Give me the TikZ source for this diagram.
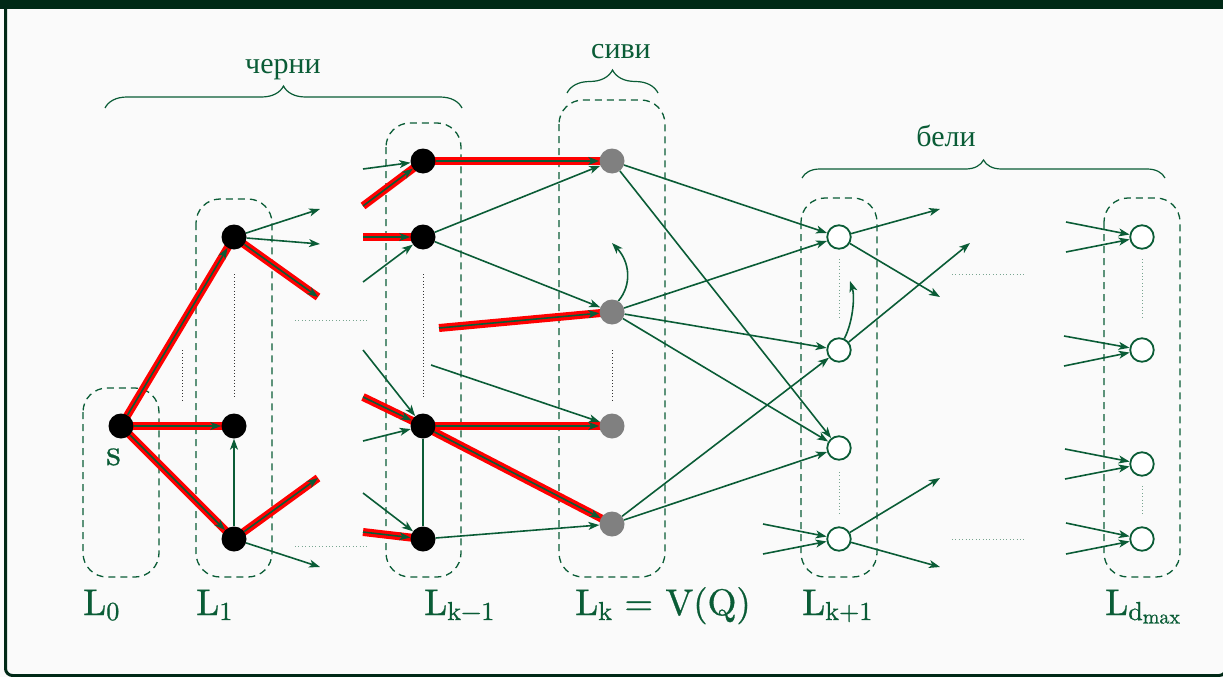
\documentclass[tikz,border=0pt]{standalone}
\usepackage{fontspec}
\newfontfamily\cyr{Liberation Serif}
\newfontfamily\labf{lmroman10-regular.otf}[FakeBold=0.8]
\usetikzlibrary{arrows.meta,decorations.pathreplacing}
\definecolor{grn}{RGB}{10,92,54}
\definecolor{frm}{RGB}{0,41,22}
\definecolor{bgc}{RGB}{250,250,250}
\definecolor{hlred}{RGB}{255,0,0}
\newcommand\lsub[1]{\raisebox{-5pt}{\fontsize{26}{30}\selectfont #1}}
\newcommand\lssub[1]{\raisebox{-3.5pt}{\fontsize{20}{23}\selectfont #1}}
\pgfdeclarelayer{back}
\pgfdeclarelayer{edges}
\pgfsetlayers{back,edges,main}
\begin{document}
\begin{tikzpicture}[x=1pt,y=-1pt,
  ln/.style={draw=grn, line width=1.6pt},
  arr/.style={ln, -{Stealth[length=11pt,width=8pt,inset=3pt]}},
  hl/.style={draw=hlred, line width=8pt},
  bn/.style={circle, fill=black, minimum size=25pt, inner sep=0pt},
  gn/.style={circle, fill=gray, minimum size=25pt, inner sep=0pt},
  wn/.style={circle, fill=white, draw=grn, line width=1.8pt, minimum size=23.5pt, inner sep=0pt},
  lbox/.style={draw=grn, line width=1.3pt, dash pattern=on 7pt off 5pt, rounded corners=24pt},
  dotk/.style={draw=black!80, line width=0.9pt, dash pattern=on 0.9pt off 2.4pt},
  dotg/.style={draw=grn!55, line width=1pt, dash pattern=on 1pt off 2.4pt},
  brc/.style={draw=grn, line width=1.2pt, decorate, decoration={brace, amplitude=#1}},
  lab/.style={text=grn, font=\labf\fontsize{37}{44}\selectfont, inner sep=0pt},
  clab/.style={text=grn, font=\cyr\fontsize{30}{36}\selectfont, inner sep=0pt}
]
\useasboundingbox (0,0) rectangle (1223,677);
\begin{pgfonlayer}{back}
  \fill[bgc] (0,0) rectangle (1223,677);
  \draw[frm, line width=3pt, rounded corners=7pt] (5.5,-5) -- (5.5,675.5) -- (1226,675.5) -- (1226,-5);
  \fill[frm] (0,0) rectangle (1223,9);
  % layer boxes
  \draw[lbox] (83,388) rectangle (159,577);
  \draw[lbox] (196,199) rectangle (272,577);
  \draw[lbox] (386,123) rectangle (461,577);
  \draw[lbox] (559,100) rectangle (665,577);
  \draw[lbox] (801,198) rectangle (877,577);
  \draw[lbox] (1104,198) rectangle (1180,577);
  % braces
  \draw[brc=22pt] (105,108) -- (462,108);
  \draw[brc=23pt] (567,93) -- (658,93);
  \draw[brc=18pt] (802,178) -- (1165,178);
  % dotted
  \draw[dotk] (234,274) -- (234,397);
  \draw[dotk] (182,350) -- (182,400);
  \draw[dotg] (295,320) -- (367,320);
  \draw[dotg] (295,546) -- (367,546);
  \draw[dotk] (423,274) -- (423,397);
  \draw[dotk] (612,350) -- (612,400);
  \draw[dotg] (839,259) -- (839,317);
  \draw[dotg] (839,472) -- (839,513);
  \draw[dotg] (952,274) -- (1026,274);
  \draw[dotg] (952,539) -- (1026,539);
  \draw[dotg] (1142,259) -- (1142,317);
  \draw[dotg] (1142,486) -- (1142,514);
\end{pgfonlayer}

% texts
\node[clab, anchor=base] (tb) at (283,74) {черни};
\node[clab, anchor=base] (ts) at (621,59) {сиви};
\node[clab, anchor=base] (tw) at (946,146) {бели};
\node[lab, anchor=base west] (l0) at (83,615) {L\lsub{0}};
\node[lab, anchor=base west] (l1) at (196,615) {L\lsub{1}};
\node[lab, anchor=base west] (lkm) at (424,615) {L\lsub{k−1}};
\node[lab, anchor=base west] (lk) at (575,615) {L\lsub{k} = V(Q)};
\node[lab, anchor=base west] (lkp) at (802,615) {L\lsub{k+1}};
\node[lab, anchor=base west] (ld) at (1105,615) {L\lsub{d\lssub{max}}};
\node[lab, anchor=base west] (ls) at (106,465) {s};

% nodes
\node[bn] (s) at (121,426) {};
\node[bn] (a1) at (234,237) {};
\node[bn] (a2) at (234,426) {};
\node[bn] (a3) at (234,539) {};
\node[bn] (b1) at (423,161) {};
\node[bn] (b2) at (423,237) {};
\node[bn] (b3) at (423,426) {};
\node[bn] (b4) at (423,539) {};
\node[gn] (c1) at (612,161) {};
\node[gn] (c2) at (612,312) {};
\node[gn] (c3) at (612,426) {};
\node[gn] (c4) at (612,524) {};
\node[wn] (w1) at (839,237) {};
\node[wn] (w2) at (839,350) {};
\node[wn] (w3) at (839,448) {};
\node[wn] (w4) at (839,539) {};
\node[wn] (d1) at (1142,237) {};
\node[wn] (d2) at (1142,350) {};
\node[wn] (d3) at (1142,464) {};
\node[wn] (d4) at (1142,539) {};

% free ends
\coordinate (p1) at (318,297);
\coordinate (p2) at (318,478);
\coordinate (p3) at (320,209);
\coordinate (p4) at (320,244);
\coordinate (p5) at (320,567);
\coordinate (q1) at (363,169);
\coordinate (q2) at (363,206);
\coordinate (q3) at (363,237);
\coordinate (q4) at (363,282);
\coordinate (q5) at (363,350);
\coordinate (q6) at (363,397);
\coordinate (q7) at (363,441);
\coordinate (q8) at (363,493);
\coordinate (q9) at (363,532);
\coordinate (r1) at (439,328);
\coordinate (r2) at (431,365);
\coordinate (r3) at (612,243);
\coordinate (t1) at (850,281);
\coordinate (u1) at (940,209);
\coordinate (u2) at (940,297);
\coordinate (u3) at (970,243);
\coordinate (u4) at (940,478);
\coordinate (u5) at (940,567);
\coordinate (u6) at (763,524);
\coordinate (u7) at (763,554);
\coordinate (e1) at (1066,222);
\coordinate (e2) at (1066,252);
\coordinate (e3) at (1064,336);
\coordinate (e4) at (1064,366);
\coordinate (e5) at (1065,449);
\coordinate (e6) at (1065,479);
\coordinate (e7) at (1066,523);
\coordinate (e8) at (1066,554);

\begin{pgfonlayer}{edges}
  % red highlighted tree edges
  \draw[hl] (s.center) -- (a1.center);
  \draw[hl] (s.center) -- (a2.center);
  \draw[hl] (s.center) -- (a3.center);
  \draw[hl] (a1.center) -- (p1);
  \draw[hl] (a3.center) -- (p2);
  \draw[hl] (q2) -- (b1.center);
  \draw[hl] (q3) -- (b2.center);
  \draw[hl] (q6) -- (b3.center);
  \draw[hl] (q9) -- (b4.center);
  \draw[hl] (b1.center) -- (c1.center);
  \draw[hl] (r1) -- (c2.center);
  \draw[hl] (b3.center) -- (c3.center);
  \draw[hl] (b3.center) -- (c4.center);
  % arrows on red
  \draw[arr] (s) -- (a1);
  \draw[arr] (s) -- (a2);
  \draw[arr] (s) -- (a3);
  \draw[arr] (a1) -- (p1);
  \draw[arr] (a3) -- (p2);
  \draw[arr] (q2) -- (b1);
  \draw[arr] (q3) -- (b2);
  \draw[arr] (q6) -- (b3);
  \draw[arr] (q9) -- (b4);
  \draw[arr] (b1) -- (c1);
  \draw[arr] (r1) -- (c2);
  \draw[arr] (b3) -- (c3);
  \draw[arr] (b3) -- (c4);
  % other arrows
  \draw[arr] (a1) -- (p3);
  \draw[arr] (a1) -- (p4);
  \draw[arr] (a3) -- (a2);
  \draw[arr] (a3) -- (p5);
  \draw[arr] (q1) -- (b1);
  \draw[arr] (q4) -- (b2);
  \draw[arr] (q5) -- (b3);
  \draw[arr] (q7) -- (b3);
  \draw[arr] (q8) -- (b4);
  \draw[ln] (b3) -- (b4);
  \draw[arr] (b2) -- (c1);
  \draw[arr] (b2) -- (c2);
  \draw[arr] (r2) -- (c3);
  \draw[arr] (b4) -- (c4);
  \draw[arr] (c2.60) .. controls (632,285) and (630,262) .. (r3);
  \draw[arr] (c1) -- (w1);
  \draw[arr] (c1) -- (w3);
  \draw[arr] (c2) -- (w1);
  \draw[arr] (c2) -- (w2);
  \draw[arr] (c2) -- (w3);
  \draw[arr] (c4) -- (w2);
  \draw[arr] (c4) -- (w3);
  \draw[arr] (w2.65) .. controls (853,322) and (855,296) .. (t1);
  \draw[arr] (w1) -- (u1);
  \draw[arr] (w1) -- (u2);
  \draw[arr] (w2) -- (u3);
  \draw[arr] (w4) -- (u4);
  \draw[arr] (w4) -- (u5);
  \draw[arr] (u6) -- (w4);
  \draw[arr] (u7) -- (w4);
  \draw[arr] (e1) -- (d1);
  \draw[arr] (e2) -- (d1);
  \draw[arr] (e3) -- (d2);
  \draw[arr] (e4) -- (d2);
  \draw[arr] (e5) -- (d3);
  \draw[arr] (e6) -- (d3);
  \draw[arr] (e7) -- (d4);
  \draw[arr] (e8) -- (d4);
\end{pgfonlayer}
\end{tikzpicture}
\end{document}
